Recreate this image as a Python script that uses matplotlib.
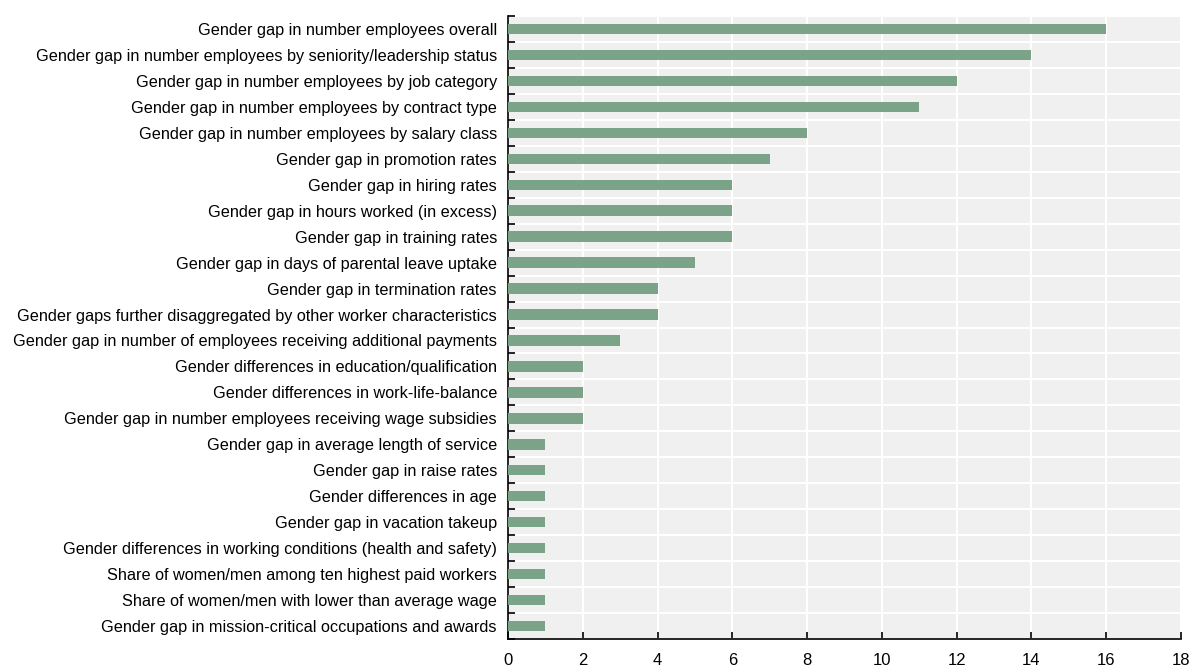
import matplotlib
matplotlib.use("Agg")
import matplotlib.pyplot as plt
import numpy as np

categories = [
    "Gender gap in number employees overall",
    "Gender gap in number employees by seniority/leadership status",
    "Gender gap in number employees by job category",
    "Gender gap in number employees by contract type",
    "Gender gap in number employees by salary class",
    "Gender gap in promotion rates",
    "Gender gap in hiring rates",
    "Gender gap in hours worked (in excess)",
    "Gender gap in training rates",
    "Gender gap in days of parental leave uptake",
    "Gender gap in termination rates",
    "Gender gaps further disaggregated by other worker characteristics",
    "Gender gap in number of employees receiving additional payments",
    "Gender differences in education/qualification",
    "Gender differences in work-life-balance",
    "Gender gap in number employees receiving wage subsidies",
    "Gender gap in average length of service",
    "Gender gap in raise rates",
    "Gender differences in age",
    "Gender gap in vacation takeup",
    "Gender differences in working conditions (health and safety)",
    "Share of women/men among ten highest paid workers",
    "Share of women/men with lower than average wage",
    "Gender gap in mission-critical occupations and awards",
]
values = [16, 14, 12, 11, 8, 7, 6, 6, 6, 5, 4, 4, 3, 2, 2, 2, 1, 1, 1, 1, 1, 1, 1, 1]
xticks = [0, 2, 4, 6, 8, 10, 12, 14, 16, 18]

plt.rcParams['font.family'] = ['Liberation Sans', 'DejaVu Sans']
fs = 11.7

fig = plt.figure(figsize=(11.92, 6.72), dpi=100)
ax = fig.add_axes([508/1192, 33/672, (1181-508)/1192, (639-16)/672])
ax.set_facecolor('#f0f0f0')

n = len(categories)
y = np.arange(n)
ax.barh(y, values, height=0.4, color='#7aa388', zorder=3)
ax.set_ylim(n - 0.5, -0.5)
ax.set_xlim(0, 18)

ax.set_yticks(y)
ax.set_yticklabels(categories, fontsize=fs, color='black')
ax.set_yticks(np.arange(-0.5, n, 1), minor=True)
ax.tick_params(axis='y', which='major', length=0, pad=8)
ax.tick_params(axis='y', which='minor', length=5, direction='in', width=1.2, color='black')

ax.set_xticks(xticks)
ax.set_xticklabels([str(t) for t in xticks], fontsize=12)
ax.tick_params(axis='x', which='major', length=5, direction='in', width=1.2, pad=10, color='black')

ax.grid(True, axis='x', which='major', color='white', linewidth=1.5, zorder=1)
ax.grid(True, axis='y', which='minor', color='white', linewidth=1.5, zorder=1)
ax.grid(False, axis='y', which='major')
ax.set_axisbelow(True)

for s in ['top', 'right']:
    ax.spines[s].set_visible(False)
for s in ['left', 'bottom']:
    ax.spines[s].set_color('black')
    ax.spines[s].set_linewidth(1.2)

fig.savefig('out.png', dpi=100)
